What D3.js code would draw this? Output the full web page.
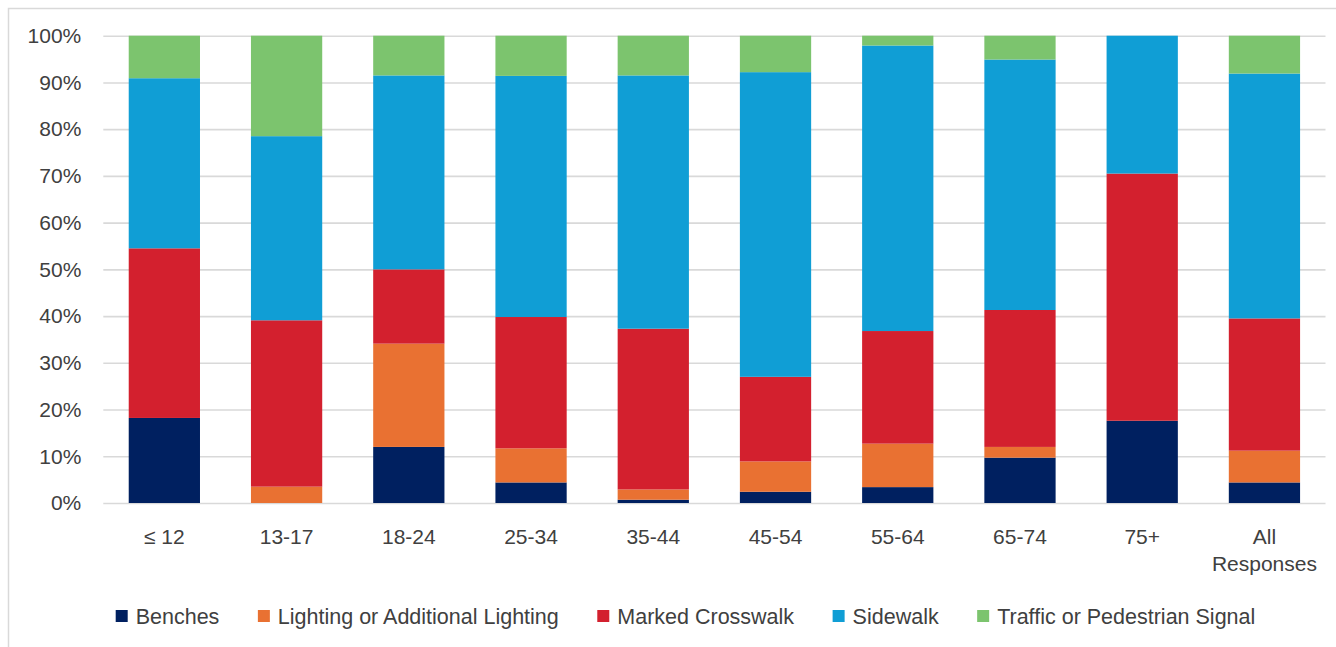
<!DOCTYPE html>
<html>
<head>
<meta charset="utf-8">
<script src="https://cdn.jsdelivr.net/npm/d3@7"></script>
<style>
  html, body { margin: 0; padding: 0; background: #fff; }
  svg { display: block; }
  text { font-family: "Liberation Sans", Arial, sans-serif; fill: #404040; }
</style>
</head>
<body>
<svg id="chart" width="1336" height="647"></svg>
<script>
// Age groups along the x axis
const ageGroups = ["≤ 12", "13-17", "18-24", "25-34", "35-44", "45-54", "55-64", "65-74", "75+", "All Responses"];

// Share of responses (%) for each improvement type, per age group
const benches    = [18.2, 0.0, 12.0, 4.4, 0.7, 2.4, 3.4, 9.7, 17.6, 4.4];
const lighting   = [0.0, 3.5, 22.1, 7.3, 2.2, 6.5, 9.3, 2.3, 0.0, 6.8];
const crosswalk  = [36.3, 35.6, 15.9, 28.1, 34.4, 18.1, 24.1, 29.3, 52.9, 28.3];
const sidewalk   = [36.4, 39.4, 41.5, 51.6, 54.2, 65.2, 61.1, 53.6, 29.5, 52.4];
const signal     = [9.1, 21.5, 8.5, 8.6, 8.5, 7.8, 2.1, 5.1, 0.0, 8.1];

const seriesNames = ["Benches", "Lighting or Additional Lighting", "Marked Crosswalk", "Sidewalk", "Traffic or Pedestrian Signal"];
const seriesValues = [benches, lighting, crosswalk, sidewalk, signal];
const seriesColors = ["#002060", "#E97132", "#D3202E", "#109ED5", "#7CC46E"];

const yTicks = [0, 0.1, 0.2, 0.3, 0.4, 0.5, 0.6, 0.7, 0.8, 0.9, 1.0];

const rows = ageGroups.map((g, i) => {
  const r = { group: g };
  seriesNames.forEach((s, k) => { r[s] = seriesValues[k][i] / 100; });
  return r;
});

const svg = d3.select("#chart");

// chart frame
svg.append("rect")
  .attr("x", 8.5).attr("y", 8.5)
  .attr("width", 1340).attr("height", 650)
  .attr("fill", "none").attr("stroke", "#d9d9d9").attr("stroke-width", 1.5);

const plot = { left: 103.3, right: 1325.5, top: 35.7, bottom: 503 };

const x = d3.scaleBand()
  .domain(ageGroups)
  .range([plot.left, plot.right])
  .paddingInner(0.417)
  .paddingOuter(0.208);

const y = d3.scaleLinear()
  .domain([0, 1])
  .range([plot.bottom, plot.top]);

// y axis with gridlines
const yAxis = svg.append("g")
  .attr("transform", `translate(${plot.left},0)`)
  .call(d3.axisLeft(y)
    .tickValues(yTicks)
    .tickFormat(d3.format(".0%"))
    .tickSize(-(plot.right - plot.left))
    .tickPadding(22));
yAxis.select(".domain").remove();
yAxis.selectAll(".tick line").attr("stroke", "#d9d9d9").attr("stroke-width", 1.6);
yAxis.selectAll(".tick text")
  .style("font-size", "21px")
  .style("font-family", "'Liberation Sans', Arial, sans-serif")
  .attr("fill", "#404040");

// stacked bars
const stack = d3.stack().keys(seriesNames);
const layers = stack(rows);

svg.append("g")
  .selectAll("g")
  .data(layers)
  .join("g")
  .attr("fill", (d, i) => seriesColors[i])
  .selectAll("rect")
  .data(d => d)
  .join("rect")
  .attr("x", d => x(d.data.group))
  .attr("width", x.bandwidth())
  .attr("y", d => y(d[1]))
  .attr("height", d => y(d[0]) - y(d[1]));

// x axis labels; long names wrap onto two lines
const xAxis = svg.append("g")
  .attr("transform", `translate(0,${plot.bottom})`)
  .call(d3.axisBottom(x).tickSize(0).tickPadding(26));
xAxis.select(".domain").remove();
xAxis.selectAll(".tick text")
  .style("font-size", "21px")
  .style("font-family", "'Liberation Sans', Arial, sans-serif")
  .attr("fill", "#404040")
  .each(function(d) {
    if (d.length <= 6) return;
    const words = d.split(" ");
    const t = d3.select(this);
    t.text(null);
    words.forEach((w, i) => {
      t.append("tspan")
        .attr("x", 0)
        .attr("dy", i === 0 ? "0.71em" : "27px")
        .text(w);
    });
    t.attr("dy", null);
  });

// legend
const legend = svg.append("g").attr("class", "legend");
const items = legend.selectAll("g")
  .data(seriesNames)
  .join("g");
items.append("rect")
  .attr("width", 12).attr("height", 12)
  .attr("y", 610)
  .attr("fill", (d, i) => seriesColors[i]);
items.append("text")
  .attr("x", 20)
  .attr("y", 624)
  .style("font-size", "21.5px")
  .text(d => d);

const gap = 38.5;
const widths = [];
items.each(function() {
  widths.push(20 + d3.select(this).select("text").node().getComputedTextLength());
});
const total = d3.sum(widths) + gap * (widths.length - 1);
let cursor = 685.5 - total / 2;
items.each(function(d, i) {
  d3.select(this).attr("transform", `translate(${cursor},0)`);
  cursor += widths[i] + gap;
});
</script>
</body>
</html>
